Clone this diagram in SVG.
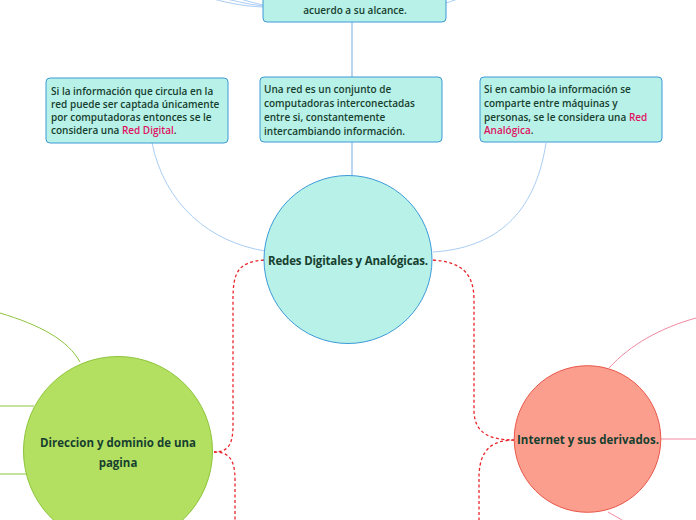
<svg xmlns="http://www.w3.org/2000/svg" width="696" height="520" viewBox="0 0 696 520">
<style>
.box{fill:#b7f1e8;stroke:#3d9ad8;stroke-width:1}
.t{font-family:"Open Sans","Noto Sans",sans-serif;font-weight:600;font-size:10px;fill:#173f2f}
.tb{font-family:"Open Sans","Noto Sans",sans-serif;font-weight:700;font-size:11.5px;fill:#173f2f;text-anchor:middle}
.tc{text-anchor:middle}
.hl{fill:#e0115f}
.blue{fill:none;stroke:#a9cdf3;stroke-width:1}
.blue2{fill:none;stroke:#b9d6f2;stroke-width:2}
.red{fill:none;stroke:#e8262b;stroke-width:1.3;stroke-dasharray:3 2.5}
.green{fill:none;stroke:#8cc43a;stroke-width:1}
.pink{fill:none;stroke:#f08aa0;stroke-width:1}
</style>
<rect width="696" height="520" fill="#ffffff"/>
<g id="connectors">
<path class="blue" d="M263,6 C245,4 232,0 214,-4"/>
<path class="blue" d="M263,7 C240,6 225,2 205,-3"/>
<path class="blue" d="M263,5 C250,2 240,-1 228,-5"/>
<path class="blue" d="M446,3 C452,1 458,-1 466,-4"/>
<path class="blue2" d="M352,22 L352,77"/>
<path class="blue2" d="M352,142 L352,176"/>
<path class="blue" d="M152,143 C165,205 210,242 265,251"/>
<path class="blue" d="M546,143 C535,215 495,248 433,252"/>
<path class="red" d="M264,260 C238,262 233,272 233,300 L233,425 C233,445 228,452 214,452"/>
<path class="red" d="M214,452 C228,452 235,458 235,480 L235,520"/>
<path class="red" d="M433,260 C460,262 474,272 474,300 L474,410 C474,432 488,440 514,440"/>
<path class="red" d="M514,440 C492,440 480,450 479,475 L479,520"/>
<path class="green" d="M80,362 C68,340 40,325 0,313"/>
<path class="green" d="M0,406 L34,406"/>
<path fill="none" stroke="#c3e29a" stroke-width="2" d="M0,474 L27,474"/>
<path class="pink" d="M609,368 C630,345 660,328 696,318"/>
<path class="pink" d="M661,439 L696,439"/>
<path class="pink" d="M608,512 L622,520"/>
</g>
<g id="top-node">
<rect class="box" x="263" y="-40" width="183" height="62" rx="4"/>
<text class="t tc" x="355" y="14" font-size="10.5">acuerdo a su alcance.</text>
</g>
<g id="left-node">
<rect class="box" x="46" y="78" width="182" height="65" rx="4"/>
<text class="t" x="51" y="95">Si la información que circula en la</text>
<text class="t" x="51" y="108">red puede ser captada únicamente</text>
<text class="t" x="51" y="121">por computadoras entonces se le</text>
<text class="t" x="51" y="134">considera una <tspan class="hl">Red Digital</tspan>.</text>
</g>
<g id="middle-node">
<rect class="box" x="260" y="77" width="182" height="65" rx="4"/>
<text class="t" x="264" y="93">Una red es un conjunto de</text>
<text class="t" x="264" y="107">computadoras interconectadas</text>
<text class="t" x="264" y="121">entre si, constantemente</text>
<text class="t" x="264" y="135">intercambiando información.</text>
</g>
<g id="right-node">
<rect class="box" x="480" y="77" width="182" height="65" rx="4"/>
<text class="t" x="484" y="93">Si en cambio la información se</text>
<text class="t" x="484" y="107">comparte entre máquinas y</text>
<text class="t" x="484" y="121">personas, se le considera una <tspan class="hl">Red</tspan></text>
<text class="t" x="484" y="134"><tspan class="hl">Analógica</tspan>.</text>
</g>
<g id="central-node">
<circle cx="348" cy="259.5" r="84" fill="#b7f1e8" stroke="#3d9ad8" stroke-width="1"/>
<text class="tb" x="348" y="265" textLength="160" lengthAdjust="spacing">Redes Digitales y Analógicas.</text>
</g>
<g id="direccion-node">
<circle cx="118" cy="451" r="94.5" fill="#b3e061" stroke="#8cc43a" stroke-width="1"/>
<text class="tb" x="118" y="447">Direccion y dominio de una</text>
<text class="tb" x="118" y="467">pagina</text>
</g>
<g id="internet-node">
<circle cx="587.5" cy="439" r="73.3" fill="#fc9e8e" stroke="#e8574a" stroke-width="1"/>
<text class="tb" x="588" y="444" font-size="11.2">Internet y sus derivados.</text>
</g>
</svg>
